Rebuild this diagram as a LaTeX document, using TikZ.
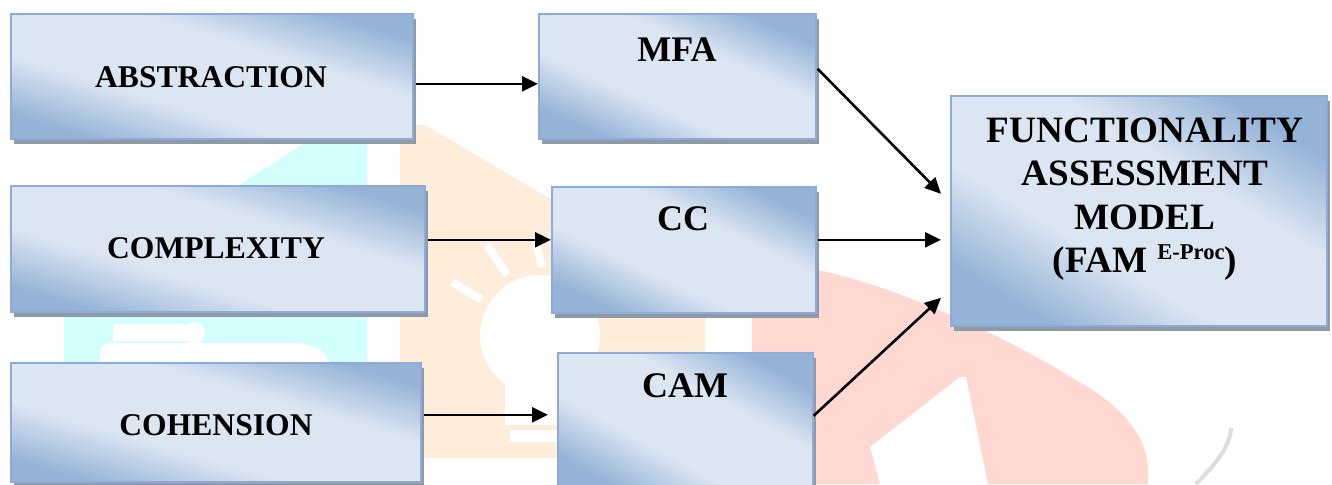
\documentclass[tikz,border=0pt]{standalone}
\usepackage{fontspec}
\setmainfont{Liberation Serif}[BoldFont={Liberation Serif Bold}]
\usetikzlibrary{shadows,arrows.meta,calc}
\definecolor{bdk}{HTML}{95B3D7}
\definecolor{blt}{HTML}{DCE6F2}
\definecolor{bborder}{HTML}{8EAADB}
\definecolor{shgray}{HTML}{8F9AA7}
\definecolor{wmcyan}{HTML}{D2FEFE}
\definecolor{wmorange}{HTML}{FFEDDB}
\definecolor{wmpink}{HTML}{FFD8D2}
\definecolor{wmgray}{HTML}{DDDDDD}
\pgfdeclarehorizontalshading{wordblue}{100bp}{color(0bp)=(bdk); color(25bp)=(bdk); color(40bp)=(blt); color(60bp)=(blt); color(75bp)=(bdk); color(100bp)=(bdk)}
\begin{document}
\begin{tikzpicture}[x=0.5pt,y=-0.5pt,
  box/.style={draw=bborder, line width=0.8pt, shading=wordblue,
    drop shadow={shadow xshift=1.8pt, shadow yshift=-2.6pt, fill=shgray, opacity=1},
    inner sep=0pt, anchor=north west},
  lbl/.style={font=\fontsize{15.8}{18}\selectfont\bfseries, inner sep=0pt},
  mlbl/.style={font=\fontsize{18}{21}\selectfont\bfseries, inner sep=0pt},
  biglbl/.style={font=\fontsize{18.6}{21.75}\selectfont\bfseries, inner sep=0pt, align=center},
  arr/.style={line width=1.3pt, -{Triangle[length=8pt,width=7.5pt]}}]
\useasboundingbox (0,0) rectangle (1332,484);
\begin{scope}
\clip (0,0) rectangle (1332,484);
% faint watermark
\fill[wmcyan] (64,484) -- (64,296) -- (313,138) -- (367,138) -- (367,484) -- cycle;
\fill[white] (100,484) -- (100,352) .. controls (100,346) and (104,343) .. (112,343) -- (290,343) .. controls (315,343) and (330,352) .. (332,370) -- (332,484) -- cycle;
\fill[white] (113,324) rectangle (192,341);
\fill[white] (194,333) circle (11);
\fill[wmorange] (400,125) -- (425,125) -- (705,290) -- (705,458) -- (400,458) -- cycle;
\fill[white] (540,335) circle (60);
\fill[white] (505,360) rectangle (575,425);
\fill[white] (510,430) rectangle (560,442);
\draw[white, line width=4pt] (487,245) -- (507,275);
\draw[white, line width=4pt] (452,282) -- (482,300);
\draw[white, line width=4pt] (535,238) -- (542,267);
\fill[wmpink] (752,262) .. controls (850,262) and (1000,330) .. (1100,395) .. controls (1140,425) and (1150,450) .. (1148,484) -- (752,484) -- cycle;
\fill[white] (811,413) -- (870,447) -- (960,377) -- (966,377) -- (988,484) -- (880,484) -- (870,447) -- cycle;
\draw[wmgray, line width=2pt] (1196,484) .. controls (1218,462) and (1230,445) .. (1231,428);
\end{scope}
% boxes
\node[box, shading angle=72.7, minimum width=201pt, minimum height=62.5pt] (abs) at (10,13) {};
\node[box, shading angle=65.7, minimum width=138.5pt, minimum height=62.5pt] (mfa) at (538,13) {};
\node[box, shading angle=73.1, minimum width=207pt, minimum height=63pt] (com) at (10,185) {};
\node[box, shading angle=64.5, minimum width=132pt, minimum height=63pt] (cc) at (551,186) {};
\node[box, shading angle=73.8, minimum width=205pt, minimum height=59.5pt] (coh) at (10,362) {};
\node[box, shading angle=61.2, minimum width=127.5pt, minimum height=70pt] (cam) at (557,352) {};
\node[box, shading angle=58.5, minimum width=188pt, minimum height=115pt] (fam) at (950,95) {};
% labels
\node[lbl] (absT) at (211,77) {ABSTRACTION};
\node[lbl] (comT) at (216,248) {COMPLEXITY};
\node[lbl] (cohT) at (216,425) {COHENSION};
\node[mlbl] (mfaT) at (677,50) {MFA};
\node[mlbl] (ccT) at (683,219) {CC};
\node[mlbl] (camT) at (685,386) {CAM};
\node[biglbl, anchor=north] (famT) at (1145,117) {FUNCTIONALITY\\ASSESSMENT\\MODEL\\(FAM\hspace{5pt}{\fontsize{11.3}{11.3}\selectfont\raisebox{6.5pt}{E-Proc}})};
% connectors
\draw[arr] ($(abs.east)+(2,7.5)$) -- ($(abs.east -| mfa.west)+(0,7.5)$);
\draw[arr] ($(com.east)+(2,-9)$) -- ($(com.east -| cc.west)+(0,-9)$);
\draw[arr] ($(coh.east)+(2,-7.5)$) -- ($(coh.east -| cam.west)+(-9,-7.5)$);
\draw[arr] ($(mfa.east)+(1,-7.5)$) -- ($(fam.west)+(-9,-17)$);
\draw[arr] ($(cc.east)+(1,-10)$) -- ($(fam.west)+(-9,29)$);
\draw[arr] ($(cam.east)+(0,-7)$) -- ($(fam.west)+(-9,87)$);
\end{tikzpicture}
\end{document}
